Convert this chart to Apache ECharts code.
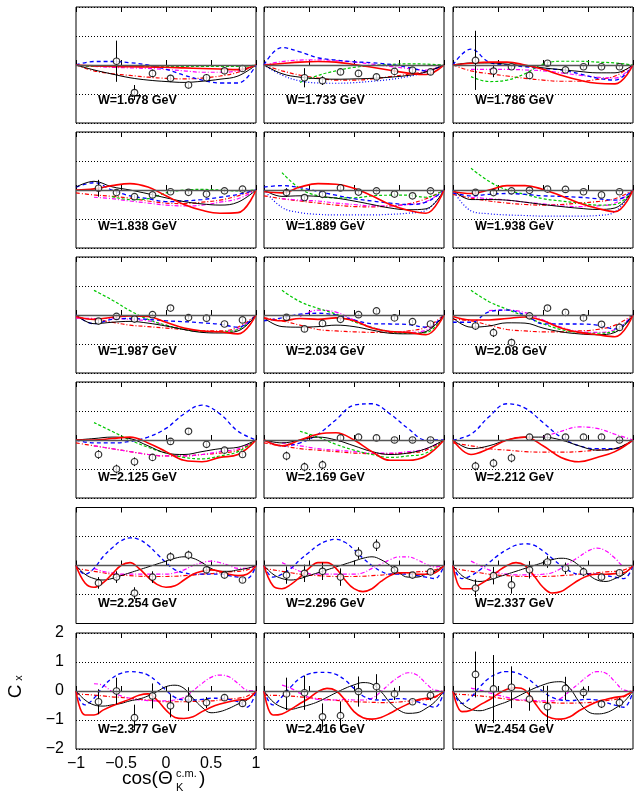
<!DOCTYPE html>
<html><head><meta charset="utf-8">
<script src="https://cdn.jsdelivr.net/npm/echarts@6/dist/echarts.min.js"></script>
<style>html,body{margin:0;padding:0;background:#fff}#c{width:642px;height:801px}</style>
</head><body><div id="c"></div>
<script>
// ---------------- DATA ----------------
const energies = ['1.678','1.733','1.786','1.838','1.889','1.938','1.987','2.034','2.08',
                  '2.125','2.169','2.212','2.254','2.296','2.337','2.377','2.416','2.454'];
const pointCos = [-0.75,-0.55,-0.35,-0.15,0.05,0.25,0.45,0.65,0.85];
const xTickLabels = ['-1','-0.5','0','0.5','1'];

const pointValues = [
 [null,0.13,-0.95,-0.29,-0.46,-0.69,-0.44,-0.2,-0.12],
 [null,-0.44,-0.54,-0.24,-0.29,-0.41,-0.22,-0.18,-0.24],
 [0.16,-0.21,-0.06,-0.36,0.06,-0.17,-0.06,-0.06,-0.06],
 [0.06,-0.09,-0.23,-0.17,-0.06,-0.08,-0.14,-0.03,0.03],
 [-0.09,-0.26,-0.15,0.07,-0.07,-0.03,-0.14,-0.2,-0.03],
 [-0.08,-0.09,-0.03,-0.01,0.03,0.02,-0.06,-0.17,-0.06],
 [-0.21,-0.05,-0.14,0.01,0.24,-0.09,-0.11,-0.31,-0.17],
 [-0.08,-0.48,-0.29,-0.15,0.01,0.14,-0.1,-0.23,-0.31],
 [-0.38,-0.61,-0.95,-0.03,0.24,0.09,-0.1,-0.32,-0.43],
 [-0.5,-1.0,-0.75,-0.6,-0.05,0.3,-0.15,-0.35,-0.5],
 [-0.55,-0.93,-0.86,0.07,0.1,0.07,0.0,0.0,0.0],
 [-0.9,-0.8,-0.62,0.1,0.1,0.1,0.1,0.1,0.0],
 [-0.6,-0.4,-0.95,-0.4,0.3,0.36,-0.15,-0.33,-0.5],
 [-0.33,-0.27,-0.2,-0.4,0.43,0.7,-0.15,-0.33,-0.22],
 [-0.78,-0.35,-0.67,-0.15,0.12,-0.1,-0.22,-0.4,-0.25],
 [-0.37,0.0,-0.92,-0.17,-0.51,-0.28,-0.4,-0.23,-0.43],
 [-0.1,-0.06,-0.89,-0.85,-0.02,0.15,-0.1,-0.37,-0.15],
 [0.57,0.07,0.13,-0.28,-0.54,0.09,-0.05,-0.45,-0.4]
];
const pointErrors = [
 [0,0.71,0.26,0.13,0.12,0.12,0.12,0.1,0.1],
 [0,0.33,0.15,0.1,0.1,0.1,0.1,0.1,0.1],
 [1.02,0.21,0.08,0.08,0.07,0.07,0.07,0.07,0.07],
 [0.29,0.08,0.07,0.07,0.06,0.06,0.06,0.06,0.06],
 [0.15,0.08,0.07,0.06,0.06,0.06,0.06,0.06,0.06],
 [0.08,0.07,0.06,0.06,0.06,0.06,0.06,0.06,0.06],
 [0.1,0.07,0.06,0.06,0.06,0.06,0.06,0.06,0.06],
 [0.1,0.1,0.07,0.06,0.06,0.06,0.06,0.06,0.06],
 [0.13,0.15,0.13,0.06,0.06,0.06,0.06,0.06,0.06],
 [0.15,0.15,0.15,0.12,0.1,0.1,0.1,0.1,0.1],
 [0.15,0.15,0.15,0.1,0.1,0.1,0.1,0.1,0.1],
 [0.15,0.15,0.15,0.1,0.1,0.1,0.1,0.1,0.1],
 [0.2,0.2,0.2,0.2,0.15,0.15,0.12,0.1,0.1],
 [0.3,0.3,0.3,0.3,0.2,0.2,0.15,0.1,0.1],
 [0.3,0.3,0.3,0.3,0.2,0.2,0.15,0.1,0.1],
 [0.43,0.46,0.45,0.43,0.4,0.41,0.19,0.1,0.1],
 [0.56,0.59,0.46,0.49,0.52,0.43,0.21,0.1,0.17],
 [0.79,1.17,0.72,0.4,0.72,0.4,0.2,0.13,0.17]
];

// model curves: values on an even grid from -1 to 1 (11 or 21 samples)
const curveBlack = [
 [0,-0.17,-0.31,-0.44,-0.52,-0.57,-0.6,-0.56,-0.49,-0.38,0],
 [0,-0.3,-0.42,-0.47,-0.49,-0.48,-0.46,-0.42,-0.36,-0.24,0],
 [0,0.07,0.07,0.03,-0.03,-0.1,-0.16,-0.22,-0.27,-0.27,0],
 [0.1,0.3,0.11,0.0,-0.13,-0.27,-0.4,-0.48,-0.52,-0.42,0],
 [0,-0.22,-0.2,-0.22,-0.28,-0.38,-0.5,-0.62,-0.68,-0.65,0],
 [0,-0.33,-0.33,-0.35,-0.42,-0.5,-0.57,-0.63,-0.67,-0.62,0],
 [0,-0.3,-0.25,-0.22,-0.28,-0.38,-0.5,-0.6,-0.62,-0.55,0],
 [-0.1,-0.4,-0.42,-0.4,-0.35,-0.4,-0.52,-0.63,-0.65,-0.57,0],
 [-0.1,-0.42,-0.38,-0.27,-0.28,-0.45,-0.58,-0.65,-0.68,-0.6,0],
 [0,0.05,0.1,0.05,-0.2,-0.45,-0.5,-0.4,-0.3,-0.25,0],
 [0,-0.1,0.0,0.1,0.0,-0.2,-0.4,-0.5,-0.45,-0.3,0],
 [0,-0.3,-0.2,0.0,0.1,0.1,0.0,-0.2,-0.35,-0.3,0],
 [0,-0.3,-0.45,-0.5,-0.45,-0.35,-0.25,-0.15,-0.05,0.05,0.15,0.25,0.3,0.25,0.1,-0.1,-0.2,-0.2,-0.15,-0.1,0],
 [0,-0.3,-0.45,-0.5,-0.45,-0.35,-0.25,-0.15,-0.05,0.05,0.15,0.25,0.3,0.2,0.0,-0.25,-0.4,-0.4,-0.3,-0.2,0],
 [0,-0.35,-0.5,-0.55,-0.5,-0.4,-0.3,-0.2,-0.1,0.0,0.1,0.2,0.25,0.2,0.0,-0.3,-0.5,-0.55,-0.45,-0.3,0],
 [0,-0.31,-0.48,-0.52,-0.48,-0.43,-0.34,-0.28,-0.17,-0.02,0.15,0.2,0.09,-0.25,-0.56,-0.75,-0.71,-0.6,-0.45,-0.31,0],
 [0,-0.37,-0.56,-0.63,-0.56,-0.48,-0.37,-0.22,-0.06,0.09,0.21,0.29,0.24,-0.02,-0.4,-0.66,-0.77,-0.75,-0.6,-0.37,0],
 [0,-0.43,-0.63,-0.68,-0.6,-0.48,-0.37,-0.22,-0.06,0.09,0.21,0.3,0.32,0.09,-0.37,-0.71,-0.79,-0.75,-0.6,-0.37,0]
];
const curveRed = [
 [0,-0.03,-0.05,-0.06,-0.07,-0.08,-0.1,-0.12,-0.14,-0.16,0],
 [0,0.05,0.1,0.12,0.1,0.02,-0.08,-0.18,-0.28,-0.33,0],
 [0,0.06,0.1,0.1,0.0,-0.15,-0.35,-0.52,-0.63,-0.65,0],
 [0,0.04,0.15,0.22,0.1,-0.2,-0.5,-0.7,-0.8,-0.78,0],
 [-0.05,-0.1,0.1,0.22,0.2,0.06,-0.2,-0.5,-0.7,-0.8,0],
 [-0.05,-0.12,0.0,0.15,0.15,0.02,-0.2,-0.45,-0.63,-0.75,0],
 [-0.05,-0.15,-0.08,-0.03,-0.05,-0.25,-0.45,-0.55,-0.58,-0.65,0],
 [-0.1,-0.2,-0.12,-0.15,-0.1,-0.2,-0.45,-0.57,-0.6,-0.68,0],
 [-0.05,-0.17,-0.17,-0.12,-0.07,-0.2,-0.45,-0.6,-0.68,-0.75,0],
 [0,0.0,0.05,0.1,-0.1,-0.4,-0.7,-0.75,-0.6,-0.5,0],
 [0,-0.2,0.0,0.2,0.25,0.0,-0.4,-0.7,-0.7,-0.55,0],
 [0,-0.5,-0.3,0.0,0.1,-0.2,-0.6,-0.75,-0.6,-0.4,0],
 [0,-0.6,-0.75,-0.6,-0.3,0.0,0.1,-0.1,-0.4,-0.65,-0.75,-0.7,-0.5,-0.3,-0.2,-0.15,-0.2,-0.3,-0.35,-0.3,0],
 [0,-0.7,-0.8,-0.65,-0.4,-0.1,0.1,0.1,-0.1,-0.5,-0.8,-0.9,-0.8,-0.55,-0.35,-0.25,-0.25,-0.3,-0.3,-0.25,0],
 [0,-0.8,-0.8,-0.65,-0.45,-0.2,0.0,0.1,0.0,-0.35,-0.75,-0.95,-0.9,-0.7,-0.5,-0.35,-0.3,-0.3,-0.28,-0.25,0],
 [0,-0.83,-0.83,-0.66,-0.52,-0.4,-0.28,-0.15,-0.1,-0.31,-0.66,-0.91,-0.95,-0.89,-0.71,-0.56,-0.45,-0.37,-0.31,-0.28,0],
 [0,-0.83,-0.79,-0.63,-0.43,-0.25,-0.02,0.09,0.01,-0.31,-0.71,-0.92,-0.97,-0.91,-0.77,-0.6,-0.45,-0.31,-0.25,-0.2,0],
 [0,-0.71,-0.66,-0.48,-0.31,-0.1,0.06,0.11,0.03,-0.37,-0.77,-0.94,-0.97,-0.89,-0.68,-0.52,-0.37,-0.29,-0.22,-0.17,0]
];
const curveBlueDash = [
 [0,0.12,0.12,0.08,0.0,-0.15,-0.35,-0.52,-0.62,-0.62,0],
 [0,0.6,0.45,0.25,0.17,0.11,0.08,0.02,-0.08,-0.2,0],
 [0,0.55,0.1,0.0,-0.06,-0.12,-0.17,-0.3,-0.45,-0.52,0],
 [0.1,0.25,0.0,-0.2,-0.3,-0.4,-0.38,-0.33,-0.25,-0.15,0],
 [0.1,0.15,0.08,-0.05,-0.18,-0.3,-0.38,-0.45,-0.5,-0.42,0],
 [-0.1,-0.2,-0.15,-0.12,-0.15,-0.2,-0.22,-0.25,-0.3,-0.35,0],
 [0,-0.3,-0.15,-0.12,-0.15,-0.2,-0.23,-0.27,-0.32,-0.42,0],
 [-0.2,-0.1,0.03,0.06,0.0,-0.17,-0.3,-0.31,-0.33,-0.42,0],
 [-0.25,-0.25,0.11,0.17,0.0,-0.3,-0.31,-0.31,-0.35,-0.48,0],
 [0,-0.1,-0.1,-0.05,0.1,0.4,0.9,1.2,0.9,0.3,0],
 [0,-0.2,-0.1,0.2,0.7,1.2,1.25,0.9,0.4,0.0,0],
 [0,0.2,0.8,1.25,1.1,0.6,0.1,-0.2,-0.3,-0.3,0],
 [0,-0.3,-0.1,0.3,0.6,0.85,0.95,0.9,0.7,0.4,0.1,-0.15,-0.25,-0.3,-0.3,-0.3,-0.3,-0.35,-0.4,-0.45,0],
 [0,-0.4,-0.3,-0.1,0.2,0.45,0.7,0.85,0.9,0.8,0.55,0.25,0.0,-0.2,-0.3,-0.3,-0.3,-0.35,-0.4,-0.45,0],
 [0,-0.45,-0.35,-0.15,0.1,0.35,0.55,0.7,0.75,0.7,0.5,0.25,0.0,-0.2,-0.3,-0.3,-0.3,-0.35,-0.4,-0.45,0],
 [0,-0.48,-0.25,0.15,0.44,0.61,0.67,0.64,0.55,0.32,0.03,-0.22,-0.31,-0.31,-0.29,-0.25,-0.25,-0.29,-0.37,-0.56,0],
 [0,-0.48,-0.2,0.15,0.44,0.59,0.64,0.64,0.57,0.38,0.09,-0.17,-0.29,-0.31,-0.29,-0.26,-0.29,-0.37,-0.48,-0.56,0],
 [0,-0.43,-0.22,0.15,0.44,0.61,0.67,0.63,0.49,0.26,-0.02,-0.22,-0.31,-0.33,-0.31,-0.29,-0.31,-0.4,-0.49,-0.56,0]
];
const curveGreen = [
 [0,-0.05,-0.05,-0.05,-0.05,-0.05,-0.05,-0.05,-0.05,-0.05,0],
 [null,null,-0.6,-0.36,-0.2,-0.08,-0.02,0.02,0.04,0.03,0],
 [null,-0.4,-0.57,-0.52,-0.3,0.03,0.13,0.13,0.1,0.07,0],
 [null,null,-0.23,-0.33,-0.3,-0.1,0.0,0.02,0.0,-0.03,0],
 [null,0.6,0.05,-0.2,-0.27,-0.27,-0.2,-0.18,-0.18,-0.25,0],
 [null,0.75,0.3,0.0,-0.15,-0.3,-0.38,-0.45,-0.52,-0.5,0],
 [null,0.85,0.52,0.15,-0.15,-0.35,-0.5,-0.57,-0.57,-0.5,0],
 [null,0.85,0.46,0.23,0.03,-0.23,-0.43,-0.57,-0.63,-0.61,0],
 [null,0.85,0.46,0.2,-0.05,-0.3,-0.5,-0.6,-0.63,-0.55,0],
 [null,0.6,0.3,0.0,-0.25,-0.45,-0.6,-0.65,-0.55,-0.4,0],
 [null,null,0.3,0.1,-0.15,-0.35,-0.5,-0.6,-0.55,-0.45,0],
 null,null,null,null,null,null,null
];
const curveMagenta = [
 [0,-0.05,-0.08,-0.1,-0.12,-0.15,-0.2,-0.25,-0.25,-0.2,0],
 [0,0.12,0.17,0.18,0.15,0.1,0.03,-0.05,-0.12,-0.18,0],
 [null,-0.15,-0.15,-0.15,-0.17,-0.2,-0.27,-0.35,-0.42,-0.45,0],
 [null,-0.25,-0.3,-0.38,-0.45,-0.52,-0.55,-0.52,-0.42,-0.3,0],
 [null,-0.3,-0.35,-0.38,-0.45,-0.5,-0.55,-0.55,-0.5,-0.4,0],
 [null,-0.25,-0.3,-0.35,-0.42,-0.48,-0.55,-0.57,-0.55,-0.45,0],
 [-0.1,-0.12,-0.12,-0.15,-0.2,-0.35,-0.5,-0.57,-0.57,-0.48,0],
 [null,null,-0.05,0.17,0.1,-0.17,-0.42,-0.57,-0.6,-0.52,0],
 [null,null,0.15,0.17,0.08,-0.17,-0.42,-0.57,-0.6,-0.5,0],
 [null,-0.2,-0.3,-0.4,-0.5,-0.55,-0.55,-0.5,-0.4,-0.3,0],
 [null,-0.1,-0.2,-0.3,-0.35,-0.4,-0.45,-0.45,-0.4,-0.3,0],
 [null,null,null,null,null,0.1,0.3,0.45,0.4,0.2,0],
 [null,null,-0.1,-0.2,-0.25,-0.3,-0.3,-0.3,-0.3,-0.3,-0.3,-0.25,-0.15,0.0,0.1,0.15,0.1,0.0,-0.1,-0.1,0],
 [null,null,0.1,-0.05,-0.2,-0.28,-0.3,-0.3,-0.3,-0.3,-0.3,-0.25,-0.1,0.05,0.2,0.3,0.3,0.2,0.05,-0.05,0],
 [null,null,0.15,0.0,-0.15,-0.25,-0.3,-0.32,-0.32,-0.32,-0.3,-0.25,-0.1,0.1,0.3,0.5,0.6,0.5,0.25,0.0,0],
 [null,null,0.25,0.2,-0.02,-0.17,-0.25,-0.31,-0.33,-0.34,-0.34,-0.31,-0.22,0.01,0.26,0.47,0.55,0.49,0.26,0.03,0],
 [null,null,0.2,0.09,-0.08,-0.22,-0.29,-0.31,-0.31,-0.29,-0.31,-0.31,-0.25,-0.02,0.26,0.49,0.63,0.55,0.26,0.03,0],
 [null,null,0.1,0.03,-0.06,-0.14,-0.22,-0.29,-0.31,-0.33,-0.34,-0.34,-0.25,0.01,0.26,0.52,0.67,0.61,0.32,0.03,0]
];
const curveRedDashDot = [
 [0,-0.2,-0.3,-0.36,-0.42,-0.46,-0.48,-0.45,-0.38,-0.25,0],
 [0,-0.2,-0.35,-0.45,-0.52,-0.52,-0.48,-0.4,-0.32,-0.22,0],
 [0,-0.2,-0.3,-0.38,-0.46,-0.52,-0.56,-0.56,-0.5,-0.38,0],
 [-0.1,-0.17,-0.22,-0.28,-0.38,-0.45,-0.47,-0.42,-0.35,-0.2,0],
 [-0.2,-0.3,-0.38,-0.45,-0.52,-0.57,-0.58,-0.55,-0.48,-0.3,0],
 [-0.15,-0.28,-0.38,-0.45,-0.5,-0.52,-0.5,-0.45,-0.4,-0.3,0],
 [-0.1,-0.15,-0.25,-0.35,-0.4,-0.45,-0.5,-0.55,-0.55,-0.42,0],
 [-0.1,-0.2,-0.35,-0.5,-0.55,-0.58,-0.6,-0.6,-0.55,-0.42,0],
 [-0.15,-0.2,-0.35,-0.5,-0.55,-0.58,-0.58,-0.55,-0.5,-0.35,0],
 [-0.1,-0.2,-0.3,-0.4,-0.5,-0.55,-0.55,-0.5,-0.45,-0.35,0],
 [-0.1,-0.2,-0.3,-0.35,-0.4,-0.45,-0.47,-0.47,-0.45,-0.35,0],
 [-0.1,-0.2,-0.3,-0.35,-0.4,-0.42,-0.42,-0.4,-0.35,-0.3,0],
 [-0.1,-0.15,-0.2,-0.25,-0.3,-0.33,-0.35,-0.37,-0.38,-0.38,-0.38,-0.37,-0.35,-0.33,-0.3,-0.28,-0.25,-0.22,-0.2,-0.15,0],
 [-0.1,-0.15,-0.2,-0.25,-0.3,-0.33,-0.35,-0.37,-0.38,-0.38,-0.38,-0.37,-0.35,-0.33,-0.3,-0.28,-0.25,-0.22,-0.2,-0.15,0],
 [-0.1,-0.15,-0.2,-0.25,-0.3,-0.33,-0.35,-0.37,-0.38,-0.38,-0.38,-0.37,-0.35,-0.33,-0.3,-0.28,-0.25,-0.22,-0.2,-0.15,0],
 [-0.1,-0.12,-0.14,-0.17,-0.2,-0.22,-0.25,-0.28,-0.31,-0.34,-0.37,-0.37,-0.37,-0.36,-0.35,-0.34,-0.31,-0.28,-0.25,-0.18,0],
 [-0.14,-0.15,-0.16,-0.18,-0.2,-0.23,-0.26,-0.29,-0.32,-0.35,-0.37,-0.38,-0.39,-0.4,-0.4,-0.38,-0.35,-0.32,-0.3,-0.22,0],
 [-0.1,-0.12,-0.14,-0.17,-0.2,-0.24,-0.28,-0.31,-0.33,-0.36,-0.39,-0.4,-0.42,-0.42,-0.41,-0.4,-0.38,-0.33,-0.29,-0.2,0]
];
const curveBlueDot = [
 null,
 [0,-0.35,-0.55,-0.62,-0.63,-0.61,-0.56,-0.5,-0.4,-0.25,0],
 null,null,
 [0,-0.6,-0.78,-0.84,-0.86,-0.86,-0.86,-0.84,-0.8,-0.7,0],
 [0,-0.72,-0.82,-0.86,-0.88,-0.9,-0.9,-0.9,-0.88,-0.75,0],
 null,null,null,null,null,null,null,null,null,null,null,null
];

// ---------------- LAYOUT / STYLE ----------------
const colLeft = [76, 264, 453];
const rowTop = [7, 132, 257, 382, 507.5, 633];
const panelW = 180, panelH = 116;
const labelOffset = [93.5, 94.5, 94.5, 96, 96.5, 97];
const FONT = '"Liberation Sans", Arial, sans-serif';

const curveDefs = [
  {data: curveRedDashDot, color:'#ff0000', width:1.2, type:[4,2,1,2]},
  {data: curveMagenta,    color:'#ff00ff', width:1.2, type:[4,2,1,2]},
  {data: curveGreen,      color:'#00c800', width:1.2, type:[3,2]},
  {data: curveBlueDot,    color:'#0000ff', width:1.2, type:[1,2]},
  {data: curveBlueDash,   color:'#0000ff', width:1.3, type:[4,3]},
  {data: curveBlack,      color:'#000000', width:1.0, type:'solid'},
  {data: curveRed,        color:'#ff0000', width:1.6, type:'solid'}
];

const minus = s => String(s).replace('-', '\u2212');

const grids = [], xAxes = [], yAxes = [], series = [], graphics = [];
const LABELED = 15;

energies.forEach((en, p) => {
  const r = Math.floor(p / 3), c = p % 3;
  grids.push({left: colLeft[c], top: rowTop[r], width: panelW, height: panelH,
    show: true, borderColor: '#000', borderWidth: 1, backgroundColor: 'transparent', containLabel: false});
  const lab = p === LABELED;
  const xBase = {gridIndex: p, type: 'value', min: -1, max: 1, interval: 0.5,
    axisLine: {show: false}, splitLine: {show: false},
    axisTick: {show: true, inside: true, length: 5, lineStyle: {color: '#000', width: 1}}};
  xAxes.push(Object.assign({}, xBase, {position: 'bottom',
    axisLabel: {show: lab, fontSize: 16, fontFamily: FONT, color: '#000', margin: 7,
      formatter: v => minus(xTickLabels[Math.round((v + 1) / 0.5)])}}));
  xAxes.push(Object.assign({}, xBase, {position: 'top', axisLabel: {show: false}}));
  yAxes.push({gridIndex: p, type: 'value', min: -2, max: 2, interval: 1,
    axisLine: {show: false}, axisTick: {show: false},
    splitLine: {show: true, lineStyle: {color: '#000', width: 1, type: [1, 2]}},
    axisLabel: {show: lab, fontSize: 16, fontFamily: FONT, color: '#000', margin: 12, formatter: v => minus(v)}});

  // zero line
  series.push({type: 'line', xAxisIndex: 2 * p, yAxisIndex: p, data: [], silent: true,
    markLine: {silent: true, symbol: 'none', label: {show: false},
      lineStyle: {color: '#555', width: 1.4, type: 'solid'}, data: [{yAxis: 0}]}, z: 1});

  curveDefs.forEach(cd => {
    const vals = cd.data[p];
    if (!vals) return;
    const n = vals.length;
    const pts = vals.map((v, i) => [-1 + 2 * i / (n - 1), v]);
    series.push({type: 'line', xAxisIndex: 2 * p, yAxisIndex: p, data: pts,
      showSymbol: false, symbol: 'none', smooth: 0.4, connectNulls: false, silent: true,
      lineStyle: {color: cd.color, width: cd.width, type: cd.type}, z: 2});
  });

  const pts = [];
  pointValues[p].forEach((v, i) => { if (v !== null) pts.push([pointCos[i], v, pointErrors[p][i]]); });
  series.push({type: 'custom', xAxisIndex: 2 * p, yAxisIndex: p, data: pts, silent: true,
    encode: {x: 0, y: 1}, z: 3,
    renderItem: (params, api) => {
      const x = api.value(0), y = api.value(1), e = api.value(2);
      const a = api.coord([x, y + e]), b = api.coord([x, y - e]);
      return {type: 'line', shape: {x1: a[0], y1: a[1], x2: b[0], y2: b[1]},
        style: {stroke: '#000', lineWidth: 1}};
    }});
  series.push({type: 'scatter', xAxisIndex: 2 * p, yAxisIndex: p, data: pts.map(q => [q[0], q[1]]),
    symbol: 'circle', symbolSize: 6.5, silent: true,
    itemStyle: {color: '#fff', borderColor: '#000', borderWidth: 1.2}, z: 4});

  graphics.push({type: 'text', x: colLeft[c] + 22, y: rowTop[r] + labelOffset[r], z: 10,
    style: {text: 'W=' + en + ' GeV', font: 'bold 12.5px ' + FONT, fill: '#000',
      textAlign: 'left', textVerticalAlign: 'middle', align: 'left', verticalAlign: 'middle'}});
});

// axis titles
const tFont = '19px ' + FONT, sFont = '11px ' + FONT;
graphics.push({type:'text', x:122, y:788, style:{text:'cos(\u0398', font:tFont, fill:'#000', textAlign:'left', align:'left', textVerticalAlign:'bottom', verticalAlign:'bottom'}});
graphics.push({type:'text', x:176, y:779, style:{text:'c.m.', font:sFont, fill:'#000', textAlign:'left', align:'left', textVerticalAlign:'bottom', verticalAlign:'bottom'}});
graphics.push({type:'text', x:176, y:793, style:{text:'K', font:sFont, fill:'#000', textAlign:'left', align:'left', textVerticalAlign:'bottom', verticalAlign:'bottom'}});
graphics.push({type:'text', x:199, y:788, style:{text:')', font:tFont, fill:'#000', textAlign:'left', align:'left', textVerticalAlign:'bottom', verticalAlign:'bottom'}});
graphics.push({type:'text', x:15.5, y:691.5, rotation: Math.PI/2, style:{text:'C', font:tFont, fill:'#000', textAlign:'center', align:'center', textVerticalAlign:'middle', verticalAlign:'middle'}});
graphics.push({type:'text', x:19, y:678, rotation: Math.PI/2, style:{text:'x', font:sFont, fill:'#000', textAlign:'center', align:'center', textVerticalAlign:'middle', verticalAlign:'middle'}});

const chart = echarts.init(document.getElementById('c'), null, {renderer: 'canvas'});
chart.setOption({animation: false, backgroundColor: '#fff',
  grid: grids, xAxis: xAxes, yAxis: yAxes, series: series, graphic: graphics});
</script></body></html>
